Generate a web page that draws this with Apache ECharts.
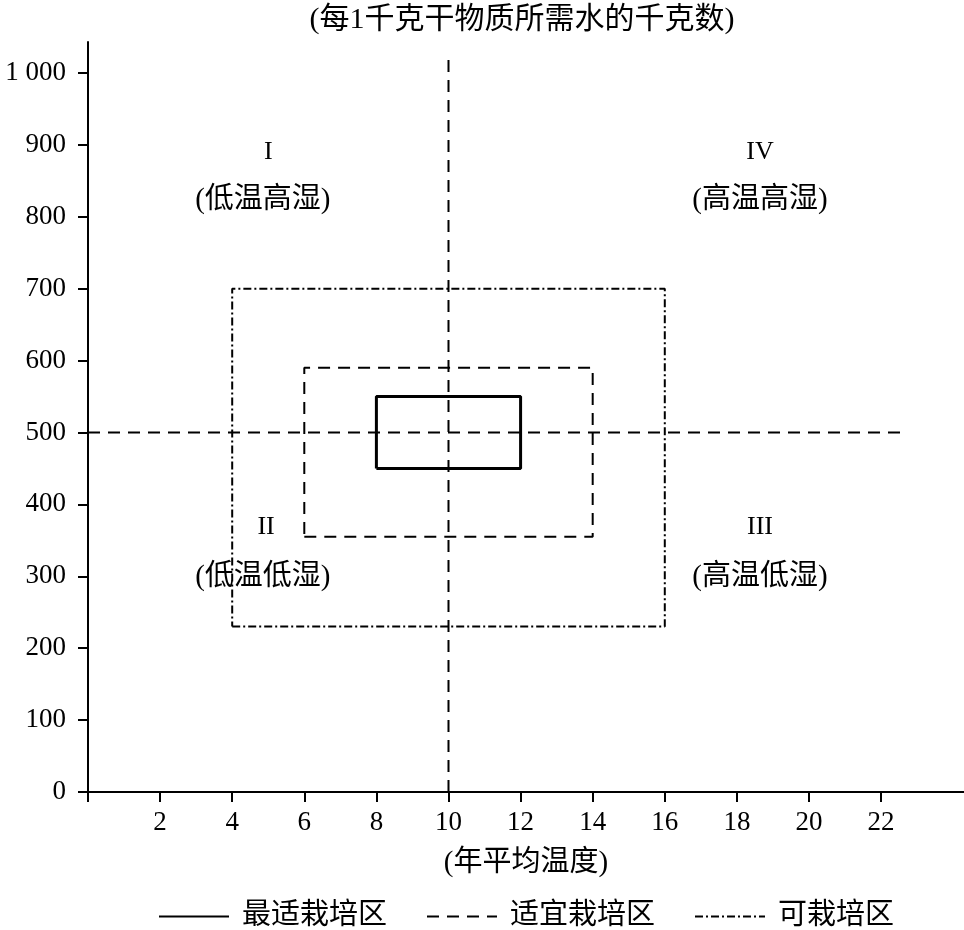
<!DOCTYPE html>
<html>
<head>
<meta charset="utf-8">
<script src="https://cdn.jsdelivr.net/npm/echarts@6/dist/echarts.min.js"></script>
<style>html,body{margin:0;padding:0;background:#fff}#c{width:964px;height:930px}</style>
</head>
<body>
<div id="c"></div>
<script>
// ---- data ----
const xTicks = [0, 2, 4, 6, 8, 10, 12, 14, 16, 18, 20, 22];
const xLabels = [2, 4, 6, 8, 10, 12, 14, 16, 18, 20, 22];
const yTicks = [0, 100, 200, 300, 400, 500, 600, 700, 800, 900, 1000];
const zoneNames = ['最适栽培区', '适宜栽培区', '可栽培区'];
const optimalX = [8, 12];
const optimalY = [450, 550];
const suitableX = [6, 14];
const suitableY = [355, 590];
const possibleX = [4, 16];
const possibleY = [230, 700];
const vRefX = [10, 10];
const vRefY = [0, 1021];
const hRefX = [0, 22.6];
const hRefY = [500, 500];
const regionNumerals = ['I', 'IV', 'II', 'III'];
const regionNumX = [5, 18.64, 4.94, 18.64];
const regionNumY = [890, 890, 368, 368];
const regionTexts = ['(低温高湿)', '(高温高湿)', '(低温低湿)', '(高温低湿)'];
const regionTextX = [4.85, 18.64, 4.85, 18.64];
const regionTextY = [823, 823, 299, 299];
const titleText = '(每1千克干物质所需水的千克数)';
const xName = '(年平均温度)';

const FONT = '"Liberation Serif", "Noto Sans CJK SC", serif';

function rect(xs, ys) {
  return [[xs[0], ys[0]], [xs[1], ys[0]], [xs[1], ys[1]], [xs[0], ys[1]], [xs[0], ys[0]]];
}
function seg(xs, ys) { return [[xs[0], ys[0]], [xs[1], ys[1]]]; }

const labelData = [];
regionNumerals.forEach((t, i) => labelData.push({ name: t, value: [regionNumX[i], regionNumY[i]], label: { fontSize: 26 } }));
regionTexts.forEach((t, i) => labelData.push({ name: t, value: [regionTextX[i], regionTextY[i]], label: { fontSize: 29 } }));

const chart = echarts.init(document.getElementById('c'), null, { renderer: 'canvas' });
const baseLine = { type: 'line', symbol: 'none', silent: true, animation: false, itemStyle: { color: '#000' } };
chart.setOption({
  animation: false,
  backgroundColor: '#fff',
  textStyle: { fontFamily: FONT, color: '#000' },
  graphic: [{
    type: 'text', x: 522, y: 20,
    style: { text: titleText, font: '30px ' + FONT, fill: '#000', textAlign: 'center', textVerticalAlign: 'middle' }
  }],
  grid: { left: 88, right: 0, top: 42, bottom: 138, containLabel: false },
  legend: {
    left: 153, top: 897,
    data: zoneNames,
    itemWidth: 70, itemHeight: 14, itemGap: 39,
    itemStyle: { opacity: 0, borderWidth: 0 },
    textStyle: { fontSize: 29, fontFamily: FONT, color: '#000', padding: [0, 0, 0, 8] },
    selectedMode: false
  },
  xAxis: {
    type: 'value', min: 0, max: 24.3,
    name: xName, nameLocation: 'middle', nameGap: 57,
    nameTextStyle: { fontSize: 29, fontFamily: FONT, color: '#000' },
    axisLine: { onZero: false, lineStyle: { color: '#000', width: 2 } },
    axisTick: { show: true, length: 10, lineStyle: { color: '#000', width: 2 }, customValues: xTicks },
    axisLabel: { customValues: xLabels, fontSize: 27, fontFamily: FONT, color: '#000', margin: 17 },
    splitLine: { show: false }
  },
  yAxis: {
    type: 'value', min: 0, max: 1043,
    axisLine: { show: true, onZero: false, lineStyle: { color: '#000', width: 2 } },
    axisTick: { show: true, length: 10, lineStyle: { color: '#000', width: 2 }, customValues: yTicks },
    axisLabel: { customValues: yTicks, fontSize: 27, fontFamily: FONT, color: '#000', margin: 22,
      formatter: v => v === 1000 ? '1 000' : String(v) },
    splitLine: { show: false }
  },
  series: [
    Object.assign({}, baseLine, { name: '_v', data: seg(vRefX, vRefY), lineStyle: { color: '#000', width: 2, type: [12, 8] }, z: 1 }),
    Object.assign({}, baseLine, { name: '_h', data: seg(hRefX, hRefY), lineStyle: { color: '#000', width: 2, type: [12, 8] }, z: 1 }),
    Object.assign({}, baseLine, { name: zoneNames[0], data: rect(optimalX, optimalY), lineStyle: { color: '#000', width: 3, type: 'solid' }, z: 3 }),
    Object.assign({}, baseLine, { name: zoneNames[1], data: rect(suitableX, suitableY), lineStyle: { color: '#000', width: 2, type: [12, 8] }, z: 2 }),
    Object.assign({}, baseLine, { name: zoneNames[2], data: rect(possibleX, possibleY), lineStyle: { color: '#000', width: 2, type: [8, 3, 2, 3] }, z: 2 }),
    {
      type: 'scatter', name: '_labels', symbol: 'circle', symbolSize: 1, silent: true, animation: false,
      itemStyle: { color: '#fff', opacity: 1 },
      data: labelData,
      z: 5,
      label: { show: true, position: ['50%', '50%'], align: 'center', verticalAlign: 'middle',
        formatter: '{b}', color: '#000', opacity: 1, textBorderWidth: 0, fontFamily: FONT }
    }
  ]
});
</script>
</body>
</html>
